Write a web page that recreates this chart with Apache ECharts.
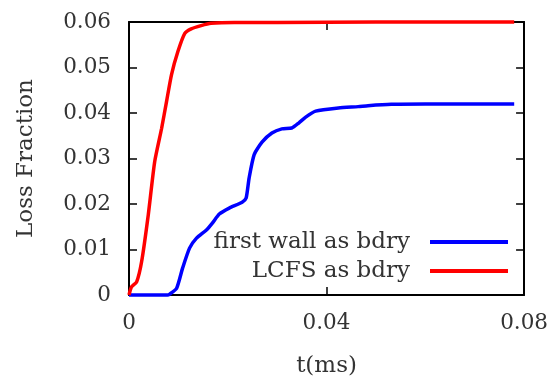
<!DOCTYPE html>
<html><head><meta charset="utf-8">
<script src="https://cdn.jsdelivr.net/npm/echarts@6/dist/echarts.min.js"></script>
<style>html,body{margin:0;padding:0;background:#fff}#c{width:551px;height:385px}</style>
</head><body><div id="c"></div>
<script>
var seriesNames = ['first wall as bdry', 'LCFS as bdry'];
var wallT = [0, 0.004, 0.0078, 0.00824, 0.00965, 0.01085, 0.01226, 0.01367, 0.01568, 0.01688, 0.01829, 0.0203, 0.02291, 0.02372, 0.02432, 0.02533, 0.02693, 0.02894, 0.03095, 0.03296, 0.03437, 0.03578, 0.03779, 0.04241, 0.0464, 0.0484, 0.0531, 0.06, 0.07, 0.078];
var wallV = [0, 0, 0, 0.0002, 0.0015, 0.0059, 0.0103, 0.0125, 0.0143, 0.0158, 0.0178, 0.0191, 0.0204, 0.0213, 0.0257, 0.0308, 0.0336, 0.0356, 0.0365, 0.0367, 0.0378, 0.0391, 0.0404, 0.0411, 0.0414, 0.0416, 0.0419, 0.0420, 0.0420, 0.0420];
var lcfsT = [0, 0.0005, 0.00155, 0.00255, 0.0039, 0.0052, 0.0066, 0.0076, 0.0086, 0.0099, 0.0113, 0.0126, 0.0146, 0.0166, 0.0213, 0.03, 0.05, 0.078];
var lcfsV = [0, 0.0018, 0.0029, 0.0073, 0.0176, 0.0293, 0.0366, 0.0425, 0.0484, 0.0535, 0.0575, 0.0585, 0.0592, 0.0597, 0.0599, 0.0599, 0.0600, 0.0600];
var xTicks = [0, 0.04, 0.08];
var yTicks = [0, 0.01, 0.02, 0.03, 0.04, 0.05, 0.06];

function pairs(t, v) { return t.map(function (x, i) { return [x, v[i]]; }); }
var FONT = 'DejaVu Serif';
var TXT = '#333';
var chart = echarts.init(document.getElementById('c'));
var axisLine = { show: true, onZero: false, lineStyle: { color: '#000', width: 2 } };
var tick = { show: true, inside: true, length: 8, lineStyle: { color: '#000', width: 1.5 } };
var legendText = { fontFamily: FONT, fontSize: 23, color: TXT, padding: [0, 15, 0, 0], lineHeight: 24 };
chart.setOption({
  animation: false,
  grid: { left: 129, right: 24, top: 22, bottom: 90, containLabel: false },
  legend: [
    { data: [seriesNames[0]], right: 43, top: 230, orient: 'vertical', align: 'right', padding: 0,
      icon: 'rect', itemWidth: 78, itemHeight: 4, textStyle: legendText },
    { data: [seriesNames[1]], right: 43, top: 259, orient: 'vertical', align: 'right', padding: 0,
      icon: 'rect', itemWidth: 78, itemHeight: 4, textStyle: legendText }
  ],
  xAxis: [
    { type: 'value', min: 0, max: 0.08, interval: 0.04, position: 'bottom',
      axisLine: axisLine, axisTick: tick, splitLine: { show: false },
      axisLabel: { margin: 17, fontFamily: FONT, fontSize: 21.5, color: TXT,
        formatter: function (v) { return v === 0 ? '0' : v.toFixed(2); } },
      name: 't(ms)', nameLocation: 'middle', nameGap: 60,
      nameTextStyle: { fontFamily: FONT, fontSize: 23, color: TXT } },
    { type: 'value', min: 0, max: 0.08, interval: 0.04, position: 'top',
      axisLine: axisLine, axisTick: tick, axisLabel: { show: false }, splitLine: { show: false } }
  ],
  yAxis: [
    { type: 'value', min: 0, max: 0.06, interval: 0.01, position: 'left',
      axisLine: axisLine, axisTick: tick, splitLine: { show: false },
      axisLabel: { margin: 18, fontFamily: FONT, fontSize: 21.5, color: TXT,
        formatter: function (v) { return v === 0 ? '0' : v.toFixed(2); } },
      name: 'Loss Fraction', nameLocation: 'middle', nameGap: 91,
      nameTextStyle: { fontFamily: FONT, fontSize: 23, color: TXT } },
    { type: 'value', min: 0, max: 0.06, interval: 0.01, position: 'right',
      axisLine: axisLine, axisTick: tick, axisLabel: { show: false }, splitLine: { show: false } }
  ],
  series: [
    { name: seriesNames[0], type: 'line', data: pairs(wallT, wallV), showSymbol: false, smooth: 0.2,
      color: '#0000ff', lineStyle: { color: '#0000ff', width: 3.5 }, clip: false },
    { name: seriesNames[1], type: 'line', data: pairs(lcfsT, lcfsV), showSymbol: false, smooth: 0.2,
      color: '#ff0000', lineStyle: { color: '#ff0000', width: 3.5 }, clip: false }
  ]
});
</script></body></html>
